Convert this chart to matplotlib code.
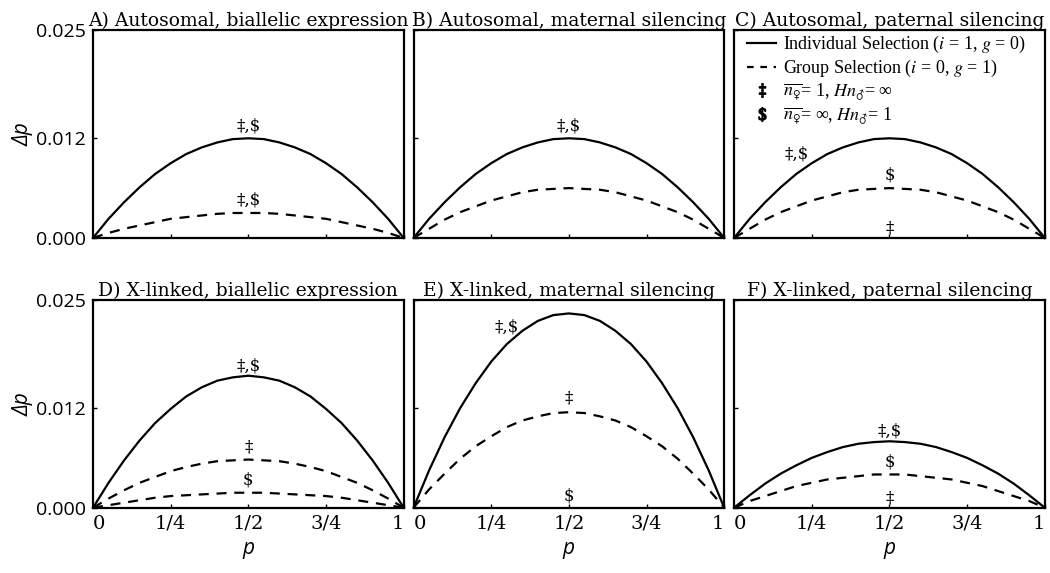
import matplotlib
matplotlib.use("Agg")
import matplotlib.pyplot as plt
from matplotlib.lines import Line2D

# ---------------- data ----------------
p = [0.00, 0.05, 0.10, 0.15, 0.20, 0.25, 0.30, 0.35, 0.40, 0.45, 0.50,
     0.55, 0.60, 0.65, 0.70, 0.75, 0.80, 0.85, 0.90, 0.95, 1.00]

# A) Autosomal, biallelic expression
A_ind = [0.0, 0.0023, 0.0043, 0.0061, 0.0077, 0.0090, 0.0101, 0.0109, 0.0115, 0.0119, 0.0120,
         0.0119, 0.0115, 0.0109, 0.0101, 0.0090, 0.0077, 0.0061, 0.0043, 0.0023, 0.0]
A_grp = [0.0, 0.0006, 0.0011, 0.0015, 0.0019, 0.0023, 0.0025, 0.0027, 0.0029, 0.0030, 0.0030,
         0.0030, 0.0029, 0.0027, 0.0025, 0.0023, 0.0019, 0.0015, 0.0011, 0.0006, 0.0]
# B) Autosomal, maternal silencing
B_ind = [0.0, 0.0023, 0.0043, 0.0061, 0.0077, 0.0090, 0.0101, 0.0109, 0.0115, 0.0119, 0.0120,
         0.0119, 0.0115, 0.0109, 0.0101, 0.0090, 0.0077, 0.0061, 0.0043, 0.0023, 0.0]
B_grp = [0.0, 0.0011, 0.0022, 0.0031, 0.0038, 0.0045, 0.0050, 0.0055, 0.0058, 0.0059, 0.0060,
         0.0059, 0.0058, 0.0055, 0.0050, 0.0045, 0.0038, 0.0031, 0.0022, 0.0011, 0.0]
# C) Autosomal, paternal silencing
C_ind = [0.0, 0.0023, 0.0043, 0.0061, 0.0077, 0.0090, 0.0101, 0.0109, 0.0115, 0.0119, 0.0120,
         0.0119, 0.0115, 0.0109, 0.0101, 0.0090, 0.0077, 0.0061, 0.0043, 0.0023, 0.0]
C_grp = [0.0, 0.0011, 0.0022, 0.0031, 0.0038, 0.0045, 0.0050, 0.0055, 0.0058, 0.0059, 0.0060,
         0.0059, 0.0058, 0.0055, 0.0050, 0.0045, 0.0038, 0.0031, 0.0022, 0.0011, 0.0]
# D) X-linked, biallelic expression
D_ind = [0.0, 0.0030, 0.0057, 0.0081, 0.0102, 0.0119, 0.0134, 0.0145, 0.0153, 0.0157, 0.0159,
         0.0157, 0.0153, 0.0145, 0.0134, 0.0119, 0.0102, 0.0081, 0.0057, 0.0030, 0.0]
D_grp_dd = [0.0, 0.0011, 0.0021, 0.0030, 0.0037, 0.0044, 0.0049, 0.0053, 0.0056, 0.0057, 0.0058,
            0.0057, 0.0056, 0.0053, 0.0049, 0.0044, 0.0037, 0.0030, 0.0021, 0.0011, 0.0]
D_grp_d = [0.0, 0.0003, 0.0006, 0.0009, 0.0012, 0.0014, 0.0015, 0.0016, 0.0017, 0.0018, 0.0018,
           0.0018, 0.0017, 0.0016, 0.0015, 0.0014, 0.0012, 0.0009, 0.0006, 0.0003, 0.0]
# E) X-linked, maternal silencing
E_ind = [0.0, 0.0045, 0.0085, 0.0120, 0.0150, 0.0176, 0.0197, 0.0213, 0.0225, 0.0232, 0.0234,
         0.0232, 0.0225, 0.0213, 0.0197, 0.0176, 0.0150, 0.0120, 0.0085, 0.0045, 0.0]
E_grp_dd = [0.0, 0.0022, 0.0041, 0.0059, 0.0074, 0.0086, 0.0097, 0.0105, 0.0110, 0.0114, 0.0115,
            0.0114, 0.0110, 0.0105, 0.0097, 0.0086, 0.0074, 0.0059, 0.0041, 0.0022, 0.0]
# F) X-linked, paternal silencing
F_ind = [0.0, 0.0015, 0.0029, 0.0041, 0.0051, 0.0060, 0.0067, 0.0073, 0.0077, 0.0079, 0.0080,
         0.0079, 0.0077, 0.0073, 0.0067, 0.0060, 0.0051, 0.0041, 0.0029, 0.0015, 0.0]
F_grp_d = [0.0, 0.0008, 0.0014, 0.0020, 0.0026, 0.0030, 0.0034, 0.0036, 0.0038, 0.0040, 0.0040,
           0.0040, 0.0038, 0.0036, 0.0034, 0.0030, 0.0026, 0.0020, 0.0014, 0.0008, 0.0]

titles = ["A) Autosomal, biallelic expression", "B) Autosomal, maternal silencing",
          "C) Autosomal, paternal silencing",
          "D) X-linked, biallelic expression", "E) X-linked, maternal silencing",
          "F) X-linked, paternal silencing"]
xticks = [0, 0.25, 0.5, 0.75, 1]
xticklabels = ["0", "1/4", "1/2", "3/4", "1"]
yticks = [0.0, 0.012, 0.025]
yticklabels = ["0.000", "0.012", "0.025"]

# ---------------- figure ----------------
plt.rcParams['mathtext.fontset'] = 'stix'
SERIF = "DejaVu Serif"
fig, axes = plt.subplots(2, 3, figsize=(10.5, 5.73), dpi=100)
fig.subplots_adjust(left=0.0886, right=0.995, top=0.947, bottom=0.114,
                    wspace=0.032, hspace=0.30)

def style(ax, title, row, col):
    ax.set_xlim(0, 1)
    ax.set_ylim(0, 0.025)
    ax.set_title(title, fontsize=13.5, family=SERIF, pad=2)
    for s in ax.spines.values():
        s.set_linewidth(1.6)
    ax.set_xticks(xticks)
    ax.set_yticks(yticks)
    ax.tick_params(direction='in', length=3, width=1, pad=5)
    if row == 1:
        ax.set_xticklabels(xticklabels, family=SERIF, fontsize=14)
        tl = ax.get_xticklabels()
        tl[0].set_horizontalalignment('left')
        tl[-1].set_horizontalalignment('right')
        ax.set_xlabel("p", fontsize=15, style='italic', family="Open Sans", labelpad=4)
    else:
        ax.set_xticklabels([])
    if col == 0:
        ax.set_yticklabels(yticklabels, fontsize=14, family="Open Sans")
        ax.set_ylabel("Δp", fontsize=15, style='italic', family="Open Sans", labelpad=2)
    else:
        ax.set_yticklabels([])

def curve(ax, y, dashed=False):
    ax.plot(p, y, color='black', lw=1.6, ls=(0, (4.5, 3.5)) if dashed else '-',
            solid_joinstyle='round', dash_joinstyle='round', clip_on=False)

def label(ax, txt, x, y, dy=3):
    ax.annotate(txt, xy=(x, y), xytext=(0, dy), textcoords='offset points',
                ha='center', va='bottom', fontsize=12, family=SERIF)

DD = "‡,$"

ax = axes[0, 0]
curve(ax, A_ind); curve(ax, A_grp, True)
label(ax, DD, p[10], max(A_ind)); label(ax, DD, p[10], max(A_grp))

ax = axes[0, 1]
curve(ax, B_ind); curve(ax, B_grp, True)
label(ax, DD, p[10], max(B_ind))

ax = axes[0, 2]
curve(ax, C_ind); curve(ax, C_grp, True)
label(ax, DD, p[4], C_ind[4], dy=8)
label(ax, "$", p[10], max(C_grp))
label(ax, "‡", p[10], 0.0, dy=1)

ax = axes[1, 0]
curve(ax, D_ind); curve(ax, D_grp_dd, True); curve(ax, D_grp_d, True)
label(ax, DD, p[10], max(D_ind), dy=1)
label(ax, "‡", p[10], max(D_grp_dd))
label(ax, "$", p[10], max(D_grp_d))

ax = axes[1, 1]
curve(ax, E_ind); curve(ax, E_grp_dd, True)
label(ax, DD, p[6], E_ind[6], dy=6)
label(ax, "‡", p[10], max(E_grp_dd), dy=4)
label(ax, "$", p[10], 0.0, dy=2)

ax = axes[1, 2]
curve(ax, F_ind); curve(ax, F_grp_d, True)
label(ax, DD, p[10], max(F_ind), dy=1)
label(ax, "$", p[10], max(F_grp_d))
label(ax, "‡", p[10], 0.0, dy=1)

for r in range(2):
    for c in range(3):
        style(axes[r, c], titles[r * 3 + c], r, c)

# legend in panel C
handles = [
    Line2D([], [], color='black', lw=1.6),
    Line2D([], [], color='black', lw=1.6, ls=(0, (3, 3))),
    Line2D([], [], ls='none', marker=r'$\ddagger$', color='black', markersize=10),
    Line2D([], [], ls='none', marker=r'$\$$', color='black', markersize=10),
]
labels = [
    r"Individual Selection ($i$ = 1, $g$ = 0)",
    r"Group Selection ($i$ = 0, $g$ = 1)",
    r"$\overline{n_{♀}}$= 1, $Hn_{♂}$= ∞",
    r"$\overline{n_{♀}}$= ∞, $Hn_{♂}$= 1",
]
leg = axes[0, 2].legend(handles, labels, loc='upper left', frameon=False,
                        bbox_to_anchor=(-0.01, 1.06), handlelength=1.6, handletextpad=0.4,
                        labelspacing=0.15, prop={'family': 'Liberation Serif', 'size': 13})

fig.savefig("out.png", dpi=100)
